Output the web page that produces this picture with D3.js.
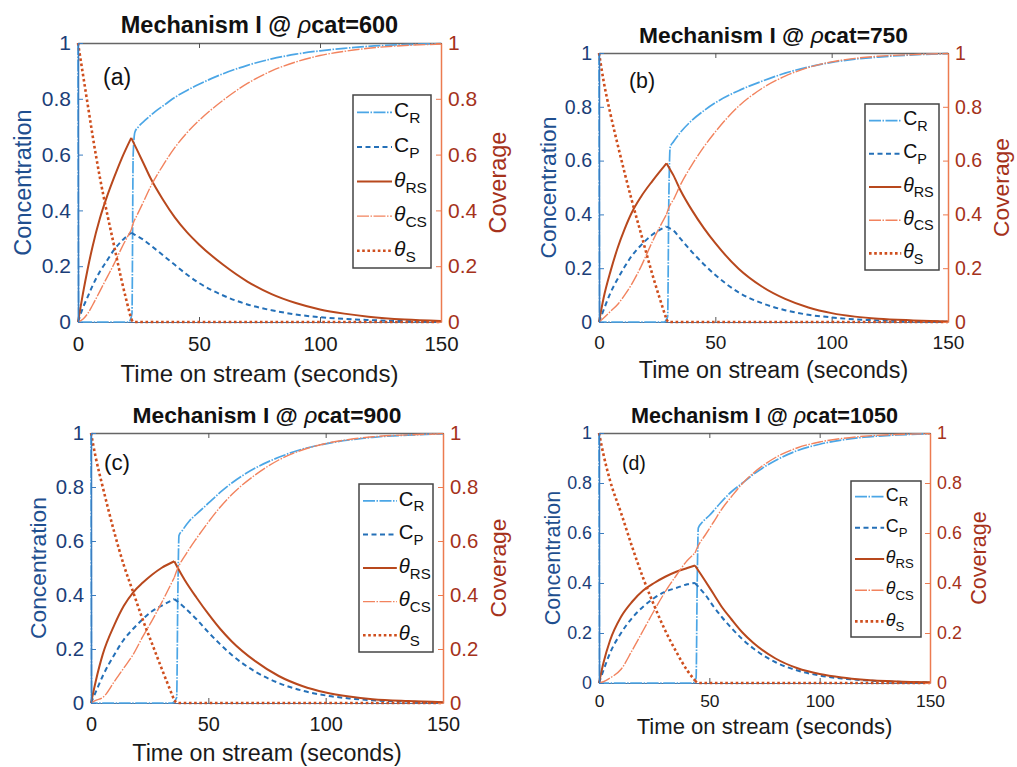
<!DOCTYPE html>
<html><head><meta charset="utf-8">
<script src="https://cdn.jsdelivr.net/npm/d3@7"></script>
<style>body{margin:0;background:#fff} svg{display:block} text{font-family:"Liberation Sans",Arial,Helvetica,sans-serif}</style>
</head><body><svg id="c" width="1017" height="767"></svg>
<script>
// ---------- data ----------
const xTicks = [0, 50, 100, 150];
const yTicks = [0, 0.2, 0.4, 0.6, 0.8, 1];
const rhoValues = [600, 750, 900, 1050];
const panelLabels = ["(a)", "(b)", "(c)", "(d)"];
const legendMain = ["C", "C", "θ", "θ", "θ"];
const legendSub = ["R", "P", "RS", "CS", "S"];
const breakTimes = [22, 29, 35.5, 43.5];

// panel (a)
const timeA = [0,2,4,6,9,12,15,18,22,23,24,27,30,35,40,45,50,60,70,80,90,100,110,120,135,150];
const thS_A = [1,0.89,0.78,0.67,0.52,0.39,0.27,0.15,0.01,0,0,0,0,0,0,0,0,0,0,0,0,0,0,0,0,0];
const thRS_A = [0,0.10,0.19,0.27,0.37,0.45,0.52,0.585,0.66,0.642,0.624,0.57,0.515,0.44,0.375,0.322,0.278,0.205,0.145,0.10,0.068,0.045,0.03,0.019,0.009,0.004];
const thCS_A = [0,0.01,0.03,0.06,0.11,0.16,0.21,0.265,0.33,0.358,0.376,0.43,0.485,0.56,0.625,0.678,0.722,0.795,0.855,0.90,0.932,0.955,0.97,0.981,0.991,0.996];
const cP_A = [0,0.05,0.09,0.13,0.18,0.22,0.26,0.29,0.32,0.315,0.31,0.295,0.275,0.24,0.205,0.17,0.14,0.095,0.063,0.042,0.027,0.017,0.011,0.007,0.003,0.001];
const timeR_A = [0,0.3,21,22.3,22.8,23.5,25,28,32,36,40,45,50,60,70,80,90,100,110,120,135,150];
const cR_A = [1,0,0,0.03,0.6,0.68,0.70,0.725,0.755,0.78,0.805,0.83,0.852,0.89,0.92,0.943,0.96,0.972,0.981,0.988,0.994,0.998];

// panel (b)
const timeB = [0,2,5,8,11,14,18,23,29,30,32,35,40,45,50,60,70,80,90,100,110,120,135,150];
const thS_B = [1,0.895,0.77,0.66,0.555,0.455,0.33,0.175,0.01,0,0,0,0,0,0,0,0,0,0,0,0,0,0,0];
const thRS_B = [0,0.09,0.19,0.275,0.345,0.405,0.465,0.525,0.59,0.575,0.545,0.49,0.415,0.35,0.293,0.198,0.132,0.086,0.054,0.033,0.02,0.012,0.006,0.002];
const thCS_B = [0,0.015,0.04,0.065,0.10,0.14,0.205,0.30,0.40,0.425,0.455,0.51,0.585,0.65,0.707,0.802,0.868,0.914,0.946,0.967,0.98,0.988,0.994,0.998];
const cP_B = [0,0.045,0.11,0.16,0.205,0.245,0.285,0.325,0.355,0.35,0.34,0.31,0.26,0.215,0.175,0.11,0.07,0.044,0.027,0.017,0.01,0.006,0.003,0.001];
const timeR_B = [0,0.3,28,29.5,30,30.6,32,35,40,45,50,60,70,80,90,100,110,120,135,150];
const cR_B = [1,0,0,0.02,0.45,0.65,0.67,0.705,0.75,0.785,0.815,0.86,0.895,0.925,0.948,0.965,0.977,0.985,0.993,0.998];

// panel (c)
const timeC = [0,2,5,10,14,18,22,26,30,35.5,37,40,45,50,55,60,70,80,90,100,110,120,135,150];
const thS_C = [1,0.91,0.80,0.63,0.51,0.41,0.31,0.22,0.13,0.01,0,0,0,0,0,0,0,0,0,0,0,0,0,0];
const thRS_C = [0,0.08,0.18,0.29,0.36,0.41,0.445,0.475,0.50,0.525,0.50,0.455,0.39,0.33,0.275,0.228,0.155,0.10,0.063,0.039,0.024,0.014,0.007,0.003];
const thCS_C = [0,0.01,0.02,0.08,0.13,0.18,0.245,0.305,0.37,0.465,0.50,0.545,0.61,0.67,0.725,0.772,0.845,0.90,0.937,0.961,0.976,0.986,0.993,0.997];
const cP_C = [0,0.04,0.10,0.18,0.235,0.275,0.31,0.34,0.36,0.385,0.375,0.352,0.31,0.262,0.218,0.178,0.116,0.074,0.046,0.028,0.017,0.01,0.005,0.002];
const timeR_C = [0,0.3,34.5,36.5,37,37.5,39,42,45,50,55,60,70,80,90,100,110,120,135,150];
const cR_C = [1,0,0,0.02,0.4,0.62,0.64,0.675,0.70,0.74,0.78,0.815,0.87,0.91,0.94,0.96,0.974,0.984,0.992,0.997];

// panel (d)
const timeD = [0,2,5,10,15,20,25,30,35,40,43.5,45,48,52,56,60,65,70,80,90,100,110,120,135,150];
const thS_D = [1,0.915,0.81,0.68,0.545,0.42,0.31,0.21,0.125,0.05,0.01,0,0,0,0,0,0,0,0,0,0,0,0,0,0];
const thRS_D = [0,0.08,0.17,0.265,0.325,0.37,0.40,0.425,0.445,0.46,0.47,0.45,0.41,0.355,0.30,0.255,0.202,0.16,0.098,0.059,0.036,0.022,0.013,0.006,0.003];
const thCS_D = [0,0.005,0.02,0.055,0.13,0.21,0.29,0.365,0.43,0.49,0.52,0.55,0.59,0.645,0.70,0.745,0.798,0.84,0.902,0.941,0.964,0.978,0.987,0.994,0.997];
const cP_D = [0,0.05,0.12,0.20,0.26,0.305,0.34,0.365,0.38,0.395,0.40,0.385,0.355,0.305,0.26,0.22,0.175,0.138,0.083,0.05,0.03,0.018,0.011,0.005,0.002];
const timeR_D = [0,0.3,42.5,44,44.5,45,47,50,55,60,65,70,80,90,100,110,120,135,150];
const cR_D = [1,0,0,0.02,0.4,0.62,0.645,0.67,0.72,0.765,0.80,0.835,0.89,0.93,0.955,0.972,0.983,0.992,0.997];

// ---------- tables built from data ----------
const panelData = [
  {t: timeA, tR: timeR_A, cR: cR_A, cP: cP_A, thRS: thRS_A, thCS: thCS_A, thS: thS_A},
  {t: timeB, tR: timeR_B, cR: cR_B, cP: cP_B, thRS: thRS_B, thCS: thCS_B, thS: thS_B},
  {t: timeC, tR: timeR_C, cR: cR_C, cP: cP_C, thRS: thRS_C, thCS: thCS_C, thS: thS_C},
  {t: timeD, tR: timeR_D, cR: cR_D, cP: cP_D, thRS: thRS_D, thCS: thCS_D, thS: thS_D}
];

// ---------- layout & style ----------
const layout = [
  {x0: 78,  x1: 441, y0: 43,  y1: 322, fs: 1.00, ft: 1.00, lab: [25, 42], leg: {x: 353, y: 95,  w: 78, h: 173}},
  {x0: 599, x1: 948, y0: 53,  y1: 322, fs: 0.93, ft: 0.97, lab: [30, 35], leg: {x: 865, y: 104, w: 74, h: 166}},
  {x0: 91,  x1: 443, y0: 433, y1: 703, fs: 0.97, ft: 0.97, lab: [13, 37], leg: {x: 359, y: 484, w: 74, h: 168}},
  {x0: 599, x1: 930, y0: 433, y1: 683, fs: 0.85, ft: 0.92, lab: [23, 37], leg: {x: 851, y: 481, w: 70, h: 156}}
];
const styles = {
  cR:   {color: "#4ba6e6", width: 1.7, dash: "12,1.5,1.5,1.5"},
  cP:   {color: "#2470b8", width: 2.0, dash: "5,3.5"},
  thRS: {color: "#b8481d", width: 2.0, dash: null},
  thCS: {color: "#f2835e", width: 1.4, dash: "12,1.5,1.5,1.5"},
  thS:  {color: "#cf4e1d", width: 2.6, dash: "2.6,2.6"}
};
const legendKeys = ["cR", "cP", "thRS", "thCS", "thS"];
const leftLineColor = "#3b7dc0", leftTextColor = "#1b3e78";
const rightLineColor = "#ec7b50", rightTextColor = "#a5321b";

const svg = d3.select("#c");

layout.forEach((L, pi) => {
  const D = panelData[pi];
  const fs = L.fs, ft = L.ft;
  const tb = breakTimes[pi];
  const g = svg.append("g");
  const x = d3.scaleLinear().domain([0, 150]).range([L.x0, L.x1]);
  const yL = d3.scaleLinear().domain([0, 1]).range([L.y1, L.y0]);
  const yR = d3.scaleLinear().domain([0, 1]).range([L.y1, L.y0]);

  const clipId = "clip" + pi;
  g.append("clipPath").attr("id", clipId).append("rect")
    .attr("x", L.x0 - 2).attr("y", L.y0 - 2).attr("width", L.x1 - L.x0 + 4).attr("height", L.y1 - L.y0 + 4);

  // top & bottom axes
  const axB = g.append("g").attr("transform", `translate(0,${L.y1})`)
    .call(d3.axisBottom(x).tickValues(xTicks).tickSizeInner(-5).tickSizeOuter(0).tickPadding(14 * fs).tickFormat(d3.format("d")));
  axB.select(".domain").attr("stroke", "#4f6f99").attr("stroke-width", 1.2);
  axB.selectAll(".tick line").attr("stroke", "#555");
  axB.selectAll(".tick text").attr("fill", "#1a1a1a").attr("font-size", 20.5 * fs).attr("font-family", "Liberation Sans, Arial, sans-serif");
  const axT = g.append("g").attr("transform", `translate(0,${L.y0})`)
    .call(d3.axisTop(x).tickValues(xTicks).tickSizeInner(-5).tickSizeOuter(0).tickFormat(""));
  axT.select(".domain").attr("stroke", "#666").attr("stroke-width", 1.3);
  axT.selectAll(".tick line").attr("stroke", "#555");

  // curves
  const cg = g.append("g").attr("clip-path", `url(#${clipId})`);
  const line = (sc) => d3.line().x(d => x(d[0])).y(d => sc(d[1])).curve(d3.curveMonotoneX);
  const drawSeries = (key, times, vals, sc, split) => {
    const st = styles[key];
    const pts = times.map((t, i) => [t, vals[i]]);
    const segs = split ? [pts.filter(p => p[0] <= tb), pts.filter(p => p[0] >= tb)] : [pts];
    segs.forEach(s => {
      cg.append("path").datum(s).attr("d", line(sc))
        .attr("fill", "none").attr("stroke", st.color).attr("stroke-width", st.width)
        .attr("stroke-dasharray", st.dash).attr("stroke-linejoin", "round");
    });
  };
  drawSeries("cR", D.tR, D.cR, yL, false);
  drawSeries("cP", D.t, D.cP, yL, true);
  drawSeries("thRS", D.t, D.thRS, yR, true);
  drawSeries("thCS", D.t, D.thCS, yR, true);
  drawSeries("thS", D.t, D.thS, yR, true);

  // left axis
  const axL = g.append("g").attr("transform", `translate(${L.x0},0)`)
    .call(d3.axisLeft(yL).tickValues(yTicks).tickSizeInner(-5).tickSizeOuter(0).tickPadding(7).tickFormat(d => d3.format("~g")(d)));
  axL.select(".domain").attr("stroke", leftLineColor).attr("stroke-width", 1.5);
  axL.selectAll(".tick line").attr("stroke", leftLineColor);
  axL.selectAll(".tick text").attr("fill", leftTextColor).attr("font-size", 21 * fs).attr("font-family", "Liberation Sans, Arial, sans-serif");
  // right axis
  const axR = g.append("g").attr("transform", `translate(${L.x1},0)`)
    .call(d3.axisRight(yR).tickValues(yTicks).tickSizeInner(-5).tickSizeOuter(0).tickPadding(7).tickFormat(d => d3.format("~g")(d)));
  axR.select(".domain").attr("stroke", rightLineColor).attr("stroke-width", 1.5);
  axR.selectAll(".tick line").attr("stroke", rightLineColor);
  axR.selectAll(".tick text").attr("fill", rightTextColor).attr("font-size", 21 * fs).attr("font-family", "Liberation Sans, Arial, sans-serif");

  // title
  const cx = (L.x0 + L.x1) / 2;
  const title = g.append("text").attr("x", cx).attr("y", L.y0 - 10).attr("text-anchor", "middle")
    .attr("font-size", 23.5 * ft).attr("font-weight", "bold").attr("fill", "#111");
  title.append("tspan").text("Mechanism I @ ");
  title.append("tspan").attr("font-style", "italic").attr("font-weight", "normal").text("ρ");
  title.append("tspan").text("cat=" + rhoValues[pi]);

  // axis labels
  g.append("text").attr("x", cx).attr("y", L.y1 + 60 * fs).attr("text-anchor", "middle")
    .attr("font-size", 24 * ft).attr("fill", "#1a1a1a").text("Time on stream (seconds)");
  const cy = (L.y0 + L.y1) / 2;
  g.append("text").attr("transform", `translate(${L.x0 - 55 * fs},${cy}) rotate(-90)`)
    .attr("text-anchor", "middle").attr("dominant-baseline", "central")
    .attr("font-size", 23.5 * ft).attr("fill", "#1f4f8f").text("Concentration");
  g.append("text").attr("transform", `translate(${L.x1 + 57 * fs},${cy}) rotate(-90)`)
    .attr("text-anchor", "middle").attr("dominant-baseline", "central")
    .attr("font-size", 23.5 * ft).attr("fill", rightTextColor).text("Coverage");

  // panel label
  g.append("text").attr("x", L.x0 + L.lab[0]).attr("y", L.y0 + L.lab[1])
    .attr("font-size", 23 * fs).attr("fill", "#111").text(panelLabels[pi]);

  // legend
  const lg = g.append("g");
  lg.append("rect").attr("x", L.leg.x).attr("y", L.leg.y).attr("width", L.leg.w).attr("height", L.leg.h)
    .attr("fill", "#fff").attr("stroke", "#444").attr("stroke-width", 1.5);
  const rowH = L.leg.h / 5;
  legendKeys.forEach((k, i) => {
    const st = styles[k];
    const yy = L.leg.y + (i + 0.5) * rowH;
    lg.append("line").attr("x1", L.leg.x + 4).attr("x2", L.leg.x + 39 * fs).attr("y1", yy).attr("y2", yy)
      .attr("stroke", st.color).attr("stroke-width", st.width).attr("stroke-dasharray", st.dash);
    const tx = lg.append("text").attr("x", L.leg.x + 41 * fs).attr("y", yy + 5 * fs)
      .attr("font-size", 21 * fs).attr("fill", "#111");
    const m = tx.append("tspan").text(legendMain[i]);
    if (legendMain[i] === "θ") m.attr("font-style", "italic");
    tx.append("tspan").attr("dy", 6 * fs).attr("font-size", 15.5 * fs).text(legendSub[i]);
  });
});
</script>
</body></html>
